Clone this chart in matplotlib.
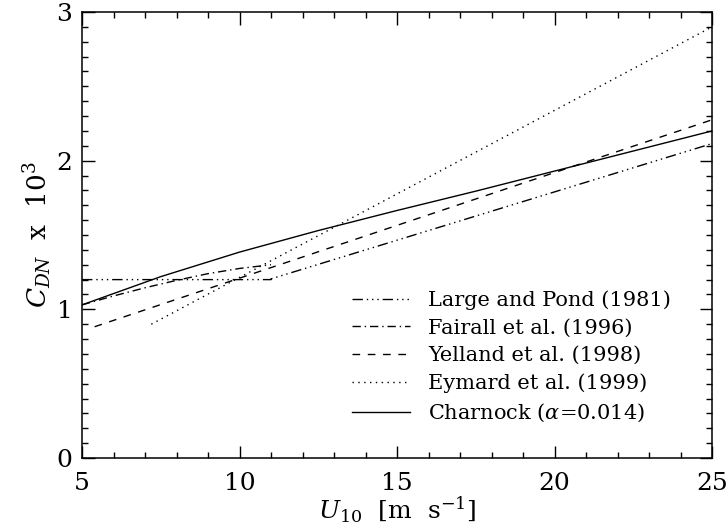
import matplotlib
matplotlib.use("Agg")
import matplotlib.pyplot as plt
from matplotlib.ticker import MultipleLocator

plt.rcParams['font.family'] = ['DejaVu Serif']
plt.rcParams['mathtext.fontset'] = 'dejavuserif'
plt.rcParams['lines.scale_dashes'] = False

# ---- data ----
lp_u = [5, 11, 11, 25]
lp_c = [1.20, 1.20, 1.205, 2.115]

fa_u = [5, 6, 7, 8, 9, 10, 11]
fa_c = [1.03, 1.09, 1.145, 1.195, 1.24, 1.275, 1.30]

ye_u = [5.4, 25]
ye_c = [0.883, 2.275]

ey_u = [7.2, 25]
ey_c = [0.90, 2.90]

ch_u = [5, 7.5, 10, 12.5, 15, 17.5, 20, 22.5, 25]
ch_c = [1.03, 1.22, 1.385, 1.53, 1.665, 1.795, 1.93, 2.065, 2.20]

labels = ["Large and Pond (1981)", "Fairall et al. (1996)",
          "Yelland et al. (1998)", "Eymard et al. (1999)",
          r"Charnock ($\alpha$=0.014)"]

fig = plt.figure(figsize=(7.27, 5.29), dpi=100)
ax = fig.add_axes([0.1128, 0.1342, 0.8666, 0.8431])

lw = 1.0
ax.plot(lp_u, lp_c, color='black', lw=lw,
        dashes=(7.5, 2.8, 1.0, 2.8, 1.0, 2.8, 1.0, 2.8), label=labels[0])
ax.plot(fa_u, fa_c, color='black', lw=lw,
        dashes=(6.0, 2.8, 1.0, 2.8), label=labels[1])
ax.plot(ye_u, ye_c, color='black', lw=lw, dashes=(5.5, 5.5), label=labels[2])
ax.plot(ey_u, ey_c, color='black', lw=lw, dashes=(1.0, 3.2), label=labels[3])
ax.plot(ch_u, ch_c, color='black', lw=lw, label=labels[4])

ax.set_xlim(5, 25)
ax.set_ylim(0, 3)
ax.xaxis.set_major_locator(MultipleLocator(5))
ax.xaxis.set_minor_locator(MultipleLocator(1))
ax.yaxis.set_major_locator(MultipleLocator(1))
ax.yaxis.set_minor_locator(MultipleLocator(0.1))
ax.tick_params(which='both', direction='in', top=True, right=True, width=1.0)
ax.tick_params(which='major', length=9, labelsize=18)
ax.tick_params(which='minor', length=4.5)
ax.tick_params(axis='x', which='major', pad=10)
ax.tick_params(axis='y', which='major', pad=7)
for s in ax.spines.values():
    s.set_linewidth(1.1)

ax.set_xlabel(r"$U_{10}$  [m  s$^{-1}$]", fontsize=18, labelpad=0)
ax.set_ylabel(r"$C_{DN}$  x  10$^3$", fontsize=19, labelpad=2)

leg = ax.legend(loc='upper left', bbox_to_anchor=(0.428, 0.376), frameon=False,
                fontsize=15, handlelength=2.8, handletextpad=0.87,
                labelspacing=0.41, borderpad=0, borderaxespad=0)

fig.savefig("out.png", dpi=100)
